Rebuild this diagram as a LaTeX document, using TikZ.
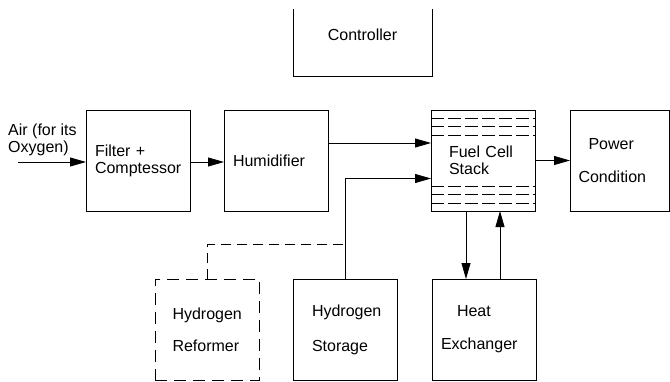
\documentclass[tikz,border=0pt]{standalone}
\usepackage{fontspec}
\setmainfont{Liberation Sans}
\usetikzlibrary{arrows.meta,positioning}

\begin{document}
\begin{tikzpicture}[
            x=1pt, y=1pt,
            node distance=34pt and 34pt,
            box/.style={rectangle, draw, align=center, minimum width=104pt, minimum height=101pt, inner sep=0pt, outer sep=0pt, line width=0.8pt, font=\fontsize{16}{17}\selectfont},
            dashbox/.style={box, dash pattern=on 12pt off 7pt},
            cellline/.style={line width=0.8pt, dash pattern=on 13pt off 4pt},
            dashline/.style={line width=0.8pt, dash pattern=on 10pt off 6pt},
            arrow/.style={-{Triangle[length=16pt,width=9pt]}, line width=0.8pt}
        ]
            \useasboundingbox (0,0) rectangle (670,381);

            % --- TOP ROW ---
            \node[box, draw=none, minimum width=139pt, minimum height=82pt] (ctrl) at (362.5,346) {Controller};
            \draw[line width=0.8pt] ([yshift=-15pt]ctrl.north west) |- (ctrl.south east) -- ([yshift=-15pt]ctrl.north east);

            % --- MAIN ROW ---
            \node[box, text width=86pt, align=left] (filter) at (138,220.5) {Filter +\\Comptessor};
            \node[box, text width=86pt, align=left, right=of filter] (humid) {Humidifier};
            \node[box, text width=68pt, align=left, right=103pt of humid] (fuel) {Fuel Cell\\Stack};
            \node[box, minimum width=99pt, text width=82pt, align=left, right=35pt of fuel] (power) {\hspace*{10pt}Power\\[16pt]Condition};

            % stack layers
            \foreach \dy in {8,16.5,25} {
                \draw[cellline] ([yshift=-\dy pt]fuel.north west) -- ([yshift=-\dy pt]fuel.north east);
                \draw[cellline] ([yshift=\dy pt]fuel.south west) -- ([yshift=\dy pt]fuel.south east);
            }

            \node[anchor=north west, inner sep=0pt, align=left, font=\fontsize{16}{17}\selectfont] (air) at (8,257) {Air (for its\\Oxygen)};
            \coordinate (airin) at (18,219);

            % --- BOTTOM ROW ---
            \node[box, text width=66pt, align=left] (storage) at (345,51.5) {Hydrogen\\[18pt]Storage};
            \node[dashbox, text width=69pt, align=left, left=of storage] (reformer) {Hydrogen\\[15pt]Reformer};
            \node[box, text width=86pt, align=left, below=68pt of fuel, xshift=1pt] (heat) {\hspace*{16pt}Heat\\[16pt]Exchanger};
            \coordinate (join) at ([yshift=34.5pt]storage.north);

            % --- CONNECTIONS ---
            \draw[arrow] (airin) -- (airin -| filter.west);
            \draw[arrow] ([yshift=-1.5pt]filter.east) -- ([yshift=-1.5pt]humid.west);
            \draw[arrow] ([yshift=17.5pt]humid.east) -- ([yshift=17.5pt]fuel.west);
            \draw[arrow] (storage.north) |- ([yshift=-18pt]fuel.west);
            \draw[dashline] (reformer.north) |- (join);
            \draw[arrow] (fuel.east) -- (power.west);
            \draw[arrow] ([xshift=-17pt]fuel.south) -- ([xshift=-17pt]fuel.south |- heat.north);
            \draw[arrow] ([xshift=17pt]fuel.south |- heat.north) -- ([xshift=17pt]fuel.south);

        \end{tikzpicture}
\end{document}
